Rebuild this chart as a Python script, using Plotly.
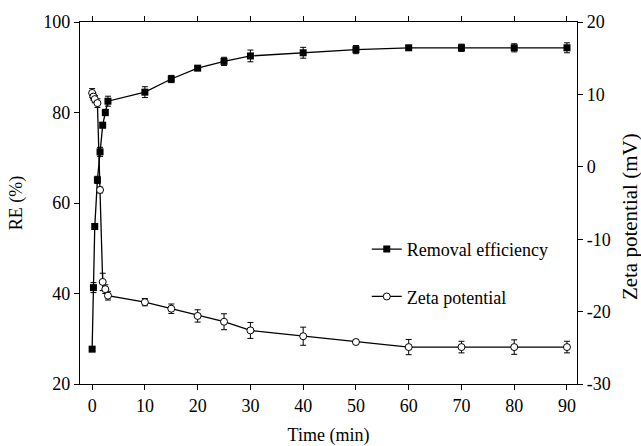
import plotly.graph_objects as go

time = [0, 0.25, 0.5, 1, 1.5, 2, 2.5, 3, 10, 15, 20, 25, 30, 40, 50, 60, 70, 80, 90]
re_vals = [27.7, 41.3, 54.8, 65.1, 71.3, 77.2, 80.0, 82.5, 84.5, 87.4, 89.8, 91.3, 92.5, 93.2, 93.9, 94.3, 94.3, 94.3, 94.3]
re_err = [0.5, 1.1, 0.6, 0.8, 1.0, 0.6, 0.7, 1.1, 1.2, 0.8, 0.4, 0.9, 1.3, 1.2, 0.9, 0.5, 0.8, 0.9, 1.1]
zeta_vals = [10.2, 9.7, 9.35, 8.8, -3.2, -15.9, -16.9, -17.8, -18.7, -19.6, -20.6, -21.4, -22.6, -23.4, -24.2, -24.9, -24.9, -24.9, -24.9]
zeta_err = [0.6, 0.5, 0.5, 0.6, 0.4, 1.2, 0.6, 0.6, 0.5, 0.65, 0.85, 1.1, 1.1, 1.25, 0.35, 1.05, 0.8, 1.0, 0.8]

x_ticks = [0, 10, 20, 30, 40, 50, 60, 70, 80, 90]
re_ticks = [20, 40, 60, 80, 100]
zeta_ticks = [-30, -20, -10, 0, 10, 20]
zeta_ticktext = ["-30", "-20", "-10", "0", "10", "20"]

FONT = "Liberation Serif"

fig = go.Figure()
fig.add_trace(go.Scatter(
    x=time, y=re_vals, name="Removal efficiency", legendgroup="a",
    mode="lines+markers",
    line=dict(color="black", width=1.3),
    marker=dict(symbol="square", size=7, color="black"),
    error_y=dict(type="data", array=re_err, color="black", thickness=1, width=3),
))
fig.add_trace(go.Scatter(
    x=time, y=zeta_vals, name="Zeta potential", legendgroup="b", yaxis="y2",
    mode="lines+markers",
    line=dict(color="black", width=1.3),
    marker=dict(symbol="circle", size=7, color="white", line=dict(color="black", width=1)),
    error_y=dict(type="data", array=zeta_err, color="black", thickness=1, width=3),
))

fig.update_layout(
    width=641, height=446,
    margin=dict(l=80, r=64, t=22, b=62, autoexpand=False),
    plot_bgcolor="white", paper_bgcolor="white",
    font=dict(family=FONT, size=18, color="black"),
    showlegend=True,
    legend=dict(x=0.577, y=0.423, xanchor="left", yanchor="top",
                bgcolor="rgba(0,0,0,0)", font=dict(size=18, family=FONT),
                tracegroupgap=21, traceorder="grouped"),
    xaxis=dict(range=[-2.3, 91.9], tickvals=x_ticks, automargin=False,
               ticks="outside", ticklen=5, tickcolor="black",
               showline=True, linecolor="black", linewidth=1.2, mirror="ticks",
               showgrid=False, zeroline=False,
               title=dict(text="Time (min)", standoff=19, font=dict(size=18))),
    yaxis=dict(range=[20, 100], tickvals=re_ticks, automargin=False,
               ticks="outside", ticklen=5, tickcolor="black",
               showline=True, linecolor="black", linewidth=1.2,
               showgrid=False, zeroline=False,
               title=dict(text="RE (%)", standoff=15, font=dict(size=18))),
    yaxis2=dict(range=[-30, 20], tickvals=zeta_ticks, ticktext=zeta_ticktext,
                overlaying="y", side="right", automargin=False,
                ticks="outside", ticklen=5, tickcolor="black",
                showline=True, linecolor="black", linewidth=1.2,
                showgrid=False, zeroline=False),
    annotations=[dict(text="Zeta potential (mV)", textangle=-90,
                      xref="paper", yref="paper", x=1, xshift=53, y=0.461,
                      xanchor="center", yanchor="middle", showarrow=False,
                      font=dict(size=21, family=FONT))],
)

fig.write_html("out.html", config={"displayModeBar": False},
               post_script="document.body.style.margin='0';")
